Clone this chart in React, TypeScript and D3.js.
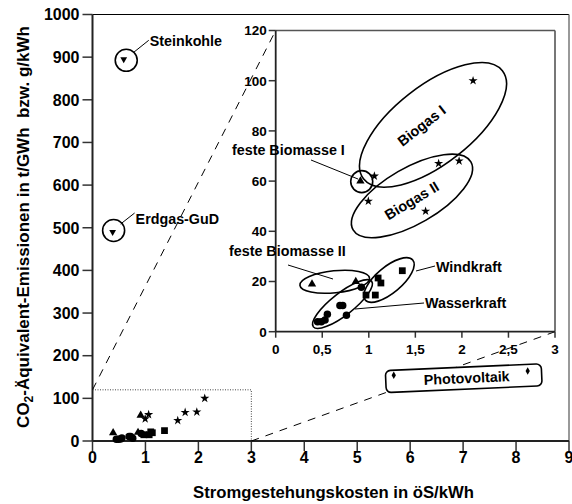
import React from "react";
import * as d3 from "d3";

// ---------- data (x: öS/kWh, y: t/GWh) ----------
const steinkohle: [number, number][] = [[0.59, 895]];
const erdgasGuD: [number, number][] = [[0.38, 490]];
const biogas: [number, number][] = [
  [0.995, 52], [1.06, 62], [1.61, 48], [1.75, 67], [1.97, 68], [2.12, 100],
];
const festeBiomasse: [number, number][] = [[0.91, 60], [0.39, 19], [0.86, 20]];
const windkraft: [number, number][] = [
  [0.97, 14.6], [1.07, 14.6], [1.1, 21.4], [1.13, 19.4], [1.36, 24.3],
];
const wasserkraft: [number, number][] = [
  [0.92, 17.7], [0.69, 10.4], [0.72, 10.4], [0.76, 6.6], [0.555, 7],
  [0.45, 4], [0.49, 4], [0.53, 4.7],
];
const photovoltaik: [number, number][] = [[5.69, 154], [8.22, 164]];

const mainXTicks = [0, 1, 2, 3, 4, 5, 6, 7, 8, 9];
const mainYTicks = [0, 100, 200, 300, 400, 500, 600, 700, 800, 900, 1000];
const insetXTicks = [0, 0.5, 1, 1.5, 2, 2.5, 3];
const insetYTicks = [0, 20, 40, 60, 80, 100, 120];
const zoomBox = { x: 3, y: 120 };

const xTitle = "Stromgestehungskosten in öS/kWh";
const yTitleA = "CO";
const yTitleSub = "2";
const yTitleB = "-Äquivalent-Emissionen in t/GWh  bzw. g/kWh";

const FONT = "'Liberation Sans', Arial, Helvetica, sans-serif";

const xMain = d3.scaleLinear().domain([0, 9]).range([92.5, 569]);
const yMain = d3.scaleLinear().domain([0, 1000]).range([441, 14.5]);
const xIn = d3.scaleLinear().domain([0, 3]).range([275.7, 555]);
const yIn = d3.scaleLinear().domain([0, 120]).range([331.7, 30.5]);

const sym = (type: d3.SymbolType, size: number) => d3.symbol().type(type).size(size)() as string;
const P = {
  star: sym(d3.symbolStar, 26),
  tri: sym(d3.symbolTriangle, 30),
  square: sym(d3.symbolSquare, 46),
  circle: sym(d3.symbolCircle, 44),
  diamond: sym(d3.symbolDiamond, 16),
  triDown: sym(d3.symbolTriangle, 20),
};

type Sc = d3.ScaleLinear<number, number>;
function Marks({ pts, path, xs, ys, rot = 0 }: { pts: [number, number][]; path: string; xs: Sc; ys: Sc; rot?: number }) {
  return (
    <g>
      {pts.map((p, i) => (
        <path key={i} d={path} fill="#000" transform={`translate(${xs(p[0])},${ys(p[1])}) rotate(${rot})`} />
      ))}
    </g>
  );
}

function Ell({ cx, cy, rx, ry, a }: { cx: number; cy: number; rx: number; ry: number; a: number }) {
  return <ellipse cx={0} cy={0} rx={rx} ry={ry} fill="none" stroke="#000" strokeWidth={1.6} transform={`translate(${cx},${cy}) rotate(${a})`} />;
}

const fmtIn = (v: number) => String(v).replace(".", ",");

export default function App() {
  const allSmall = (xs: Sc, ys: Sc) => (
    <g>
      <Marks pts={biogas} path={P.star} xs={xs} ys={ys} />
      <Marks pts={festeBiomasse} path={P.tri} xs={xs} ys={ys} />
      <Marks pts={windkraft} path={P.square} xs={xs} ys={ys} />
      <Marks pts={wasserkraft} path={P.circle} xs={xs} ys={ys} />
    </g>
  );

  const pv0 = [xMain(photovoltaik[0][0]), yMain(photovoltaik[0][1])];
  const pv1 = [xMain(photovoltaik[1][0]), yMain(photovoltaik[1][1])];
  const pvCx = (pv0[0] + pv1[0]) / 2 + 3;
  const pvCy = (pv0[1] + pv1[1]) / 2 + 5;

  const sk = [xMain(steinkohle[0][0]), yMain(steinkohle[0][1])];
  const eg = [xMain(erdgasGuD[0][0]), yMain(erdgasGuD[0][1])];

  return (
    <svg width={572} height={504} style={{ position: "absolute", left: 0, top: 0, background: "#fff" }} fontFamily={FONT} fontWeight="bold">
      <rect width={572} height={504} fill="#fff" />
      {/* main frame */}
      <line x1={xMain(0)} x2={xMain(9)} y1={yMain(1000)} y2={yMain(1000)} stroke="#000" strokeWidth={1.2} />
      <line x1={xMain(9)} x2={xMain(9)} y1={yMain(1000)} y2={yMain(0)} stroke="#777" strokeWidth={1.5} />
      {/* main ticks */}
      {mainYTicks.map((t) => (
        <g key={"my" + t}>
          <line x1={xMain(0) - 10} x2={xMain(0)} y1={yMain(t)} y2={yMain(t)} stroke="#333" strokeWidth={1.5} />
          <text x={xMain(0) - 13} y={yMain(t)} dy="0.36em" textAnchor="end" fontSize={16}>{t}</text>
        </g>
      ))}
      {mainXTicks.map((t) => (
        <g key={"mx" + t}>
          <line x1={xMain(t)} x2={xMain(t)} y1={yMain(0)} y2={yMain(0) + 10} stroke="#333" strokeWidth={1.5} />
          <text x={xMain(t)} y={yMain(0) + 22} textAnchor="middle" fontSize={16}>{t}</text>
        </g>
      ))}
      <line x1={xMain(0)} x2={xMain(0)} y1={yMain(1000)} y2={yMain(0)} stroke="#222" strokeWidth={2} />
      <line x1={xMain(0)} x2={xMain(9)} y1={yMain(0)} y2={yMain(0)} stroke="#222" strokeWidth={2} />

      {/* axis titles */}
      <text x={333.5} y={498} textAnchor="middle" fontSize={16.7}>{xTitle}</text>
      <text transform="translate(29,227) rotate(-90)" textAnchor="middle" fontSize={17} style={{ whiteSpace: "pre" }}>
        {yTitleA}
        <tspan fontSize={12} dy={4}>{yTitleSub}</tspan>
        <tspan dy={-4}>{yTitleB}</tspan>
      </text>

      {/* zoom rectangle and connectors */}
      <path d={`M${xMain(0)},${yMain(zoomBox.y)}H${xMain(zoomBox.x)}V${yMain(0)}`} fill="none" stroke="#444" strokeWidth={1} strokeDasharray="1,1.5" />
      <line x1={xMain(0)} y1={yMain(zoomBox.y)} x2={xIn(0)} y2={yIn(120)} stroke="#000" strokeWidth={1} strokeDasharray="8,7" />
      <line x1={xMain(zoomBox.x)} y1={yMain(0)} x2={xIn(3)} y2={yIn(0)} stroke="#000" strokeWidth={1} strokeDasharray="8,7" />

      {/* main points */}
      {allSmall(xMain, yMain)}
      <Marks pts={steinkohle} path={P.triDown} xs={xMain} ys={yMain} rot={180} />
      <Marks pts={erdgasGuD} path={P.triDown} xs={xMain} ys={yMain} rot={180} />
      <circle cx={sk[0] + 2.5} cy={sk[1] + 1} r={11} fill="none" stroke="#000" strokeWidth={1.6} />
      <circle cx={eg[0] + 1} cy={eg[1] - 1.5} r={11} fill="none" stroke="#000" strokeWidth={1.6} />
      <line x1={sk[0] + 10} y1={sk[1] - 7} x2={sk[0] + 25} y2={sk[1] - 19} stroke="#000" strokeWidth={1} />
      <text x={sk[0] + 26} y={sk[1] - 13} fontSize={14.3}>Steinkohle</text>
      <line x1={eg[0] + 8} y1={eg[1] - 8} x2={eg[0] + 22} y2={eg[1] - 19} stroke="#000" strokeWidth={1} />
      <text x={eg[0] + 23} y={eg[1] - 8} fontSize={14.3}>Erdgas-GuD</text>

      {/* Photovoltaik */}
      <g transform={`translate(${pvCx},${pvCy}) rotate(-2.5)`}>
        <rect x={-78} y={-11} width={156} height={22} rx={5} fill="#fff" stroke="#000" strokeWidth={1.6} />
        <text x={3} y={5} textAnchor="middle" fontSize={14.3}>Photovoltaik</text>
      </g>
      <Marks pts={photovoltaik} path={P.diamond} xs={xMain} ys={yMain} />

      {/* inset */}
      <rect x={xIn(0)} y={yIn(120)} width={xIn(3) - xIn(0)} height={yIn(0) - yIn(120)} fill="#fff" />
      <line x1={xIn(0)} x2={xIn(3)} y1={yIn(120)} y2={yIn(120)} stroke="#555" strokeWidth={1.6} />
      <line x1={xIn(3)} x2={xIn(3)} y1={yIn(120)} y2={yIn(0)} stroke="#555" strokeWidth={1.6} />
      {insetYTicks.map((t) => (
        <g key={"iy" + t}>
          <line x1={xIn(0) - 7} x2={xIn(0)} y1={yIn(t)} y2={yIn(t)} stroke="#333" strokeWidth={1.5} />
          <text x={xIn(0) - 9} y={yIn(t)} dy="0.36em" textAnchor="end" fontSize={13.5}>{fmtIn(t)}</text>
        </g>
      ))}
      {insetXTicks.map((t) => (
        <g key={"ix" + t}>
          <line x1={xIn(t)} x2={xIn(t)} y1={yIn(0)} y2={yIn(0) + 6} stroke="#333" strokeWidth={1.5} />
          <text x={xIn(t)} y={yIn(0) + 22} textAnchor="middle" fontSize={13.5}>{fmtIn(t)}</text>
        </g>
      ))}
      <line x1={xIn(0)} x2={xIn(0)} y1={yIn(120)} y2={yIn(0)} stroke="#222" strokeWidth={1.8} />
      <line x1={xIn(0)} x2={xIn(3)} y1={yIn(0)} y2={yIn(0)} stroke="#222" strokeWidth={1.8} />

      {allSmall(xIn, yIn)}

      {/* group ellipses */}
      <Ell cx={xIn(1.69)} cy={yIn(82.4)} rx={88} ry={39} a={-38} />
      <Ell cx={xIn(1.464)} cy={yIn(54.1)} rx={68} ry={28} a={-30} />
      <circle cx={xIn(0.924)} cy={yIn(59.8)} r={11} fill="none" stroke="#000" strokeWidth={1.6} />
      <Ell cx={xIn(0.634)} cy={yIn(19.9)} rx={35} ry={11} a={-6} />
      <Ell cx={xIn(1.217)} cy={yIn(20.6)} rx={31} ry={13} a={-40} />
      <Ell cx={xIn(0.7175)} cy={yIn(11)} rx={37} ry={11} a={-38} />

      {/* inset labels */}
      <text transform={`translate(${xIn(1.6)},${yIn(80.5)}) rotate(-38)`} textAnchor="middle" fontSize={14.5}>Biogas I</text>
      <text transform={`translate(${xIn(1.49)},${yIn(50.5)}) rotate(-31)`} textAnchor="middle" fontSize={14.5}>Biogas II</text>
      <text x={232} y={155} fontSize={14.3}>feste Biomasse I</text>
      <line x1={311} y1={160} x2={358} y2={179} stroke="#000" strokeWidth={1} />
      <text x={229} y={256} fontSize={14.3}>feste Biomasse II</text>
      <line x1={288} y1={265} x2={333} y2={279} stroke="#000" strokeWidth={1} />
      <text x={436} y={272} fontSize={14.3}>Windkraft</text>
      <line x1={416} y1={271} x2={435} y2={266} stroke="#000" strokeWidth={1} />
      <text x={425} y={308} fontSize={14.3}>Wasserkraft</text>
      <line x1={355} y1={309} x2={424} y2={303} stroke="#000" strokeWidth={1} />
    </svg>
  );
}
